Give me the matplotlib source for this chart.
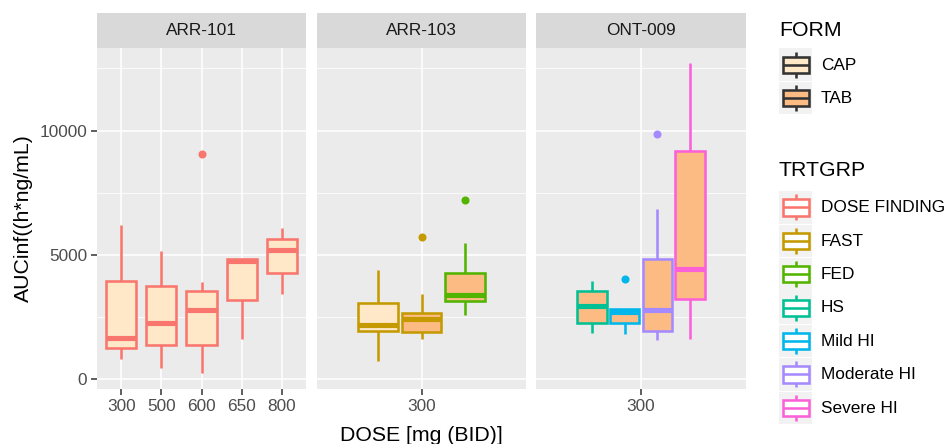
import numpy as np
import matplotlib
matplotlib.use("Agg")
import matplotlib.pyplot as plt
from matplotlib.patches import Rectangle

plt.rcParams['font.family'] = ['Liberation Sans', 'DejaVu Sans']

# --- data ---
studies = ['ARR-101', 'ARR-103', 'ONT-009']
dose_levels = {'ARR-101': ['300', '500', '600', '650', '800'],
               'ARR-103': ['300'],
               'ONT-009': ['300']}

box_study = ['ARR-101'] * 5 + ['ARR-103'] * 3 + ['ONT-009'] * 4
box_dose = ['300', '500', '600', '650', '800', '300', '300', '300', '300', '300', '300', '300']
box_form = ['CAP'] * 5 + ['CAP', 'TAB', 'TAB'] + ['TAB'] * 4
box_trt = ['DOSE FINDING'] * 5 + ['FAST', 'FAST', 'FED'] + ['HS', 'Mild HI', 'Moderate HI', 'Severe HI']
whislo = [790, 445, 226, 1617, 3437, 740, 1617, 2559, 1860, 1819, 1577, 1617]
q1 = [1237, 1375, 1375, 3166, 4270, 1953, 1884, 3125, 2248, 2248, 1953, 3206]
med = [1657, 2264, 2790, 4755, 5187, 2183, 2426, 3368, 2923, 2680, 2790, 4419]
q3 = [3946, 3732, 3530, 4836, 5632, 3073, 2652, 4286, 3530, 2830, 4823, 9190]
whishi = [6199, 5160, 3906, 4836, 6089, 4407, 3408, 5458, 3934, 2830, 6845, 12707]
outliers = [[], [], [9069], [], [], [], [5725], [7197], [], [4043], [9877], []]

form_levels = ['CAP', 'TAB']
form_fill = {'CAP': '#FEE8C8', 'TAB': '#FDBB84'}
trt_levels = ['DOSE FINDING', 'FAST', 'FED', 'HS', 'Mild HI', 'Moderate HI', 'Severe HI']
trt_col = {'DOSE FINDING': '#F8766D', 'FAST': '#C49A00', 'FED': '#53B400',
           'HS': '#00C094', 'Mild HI': '#00B6EB', 'Moderate HI': '#A58AFF',
           'Severe HI': '#FB61D7'}

y_ticks = [0, 5000, 10000]
y_minor = [2500, 7500, 12500]

# --- layout ---
W, H = 948, 444
fig = plt.figure(figsize=(W / 100, H / 100), dpi=100)

panel_x = [(97, 306), (317, 526), (536, 746)]
p_top, p_bot, s_top = 47.7, 389, 13.3

lo = min(whislo)
hi = max(max(whishi), max(max(o) for o in outliers if o))
pad = 0.05 * (hi - lo)
ylim = (lo - pad, hi + pad)

box_lw = 1.85
grey = '#4D4D4D'
tick_fs = 12.4
title_fs = 15.3

axes = []
for si, st in enumerate(studies):
    x0, x1 = panel_x[si]
    ax = fig.add_axes([x0 / W, (H - p_bot) / H, (x1 - x0) / W, (p_bot - p_top) / H])
    ax.set_facecolor('#EBEBEB')
    for s in ax.spines.values():
        s.set_visible(False)
    levels = dose_levels[st]
    ax.set_xlim(0.4, len(levels) + 0.6)
    ax.set_ylim(*ylim)
    for y in y_minor:
        ax.axhline(y, color='white', lw=0.55, zorder=0)
    for y in y_ticks:
        ax.axhline(y, color='white', lw=1.1, zorder=0)
    for i in range(len(levels)):
        ax.axvline(i + 1, color='white', lw=1.1, zorder=0)

    idx = [k for k in range(len(box_study)) if box_study[k] == st]
    # dodge2-style placement within each dose
    for di, d in enumerate(levels):
        grp = [k for k in idx if box_dose[k] == d]
        n = len(grp)
        total = 0.75
        slot = total / n
        bw = slot * (0.9 if n > 1 else 1.0)
        for j, k in enumerate(grp):
            pos = di + 1 - total / 2 + slot * (j + 0.5)
            c = trt_col[box_trt[k]]
            stats = [dict(med=med[k], q1=q1[k], q3=q3[k], whislo=whislo[k],
                          whishi=whishi[k], fliers=outliers[k])]
            ax.bxp(stats, positions=[pos], widths=[bw], patch_artist=True,
                   showcaps=False, manage_ticks=False,
                   boxprops=dict(facecolor=form_fill[box_form[k]], edgecolor=c, linewidth=box_lw),
                   whiskerprops=dict(color=c, linewidth=box_lw, solid_capstyle='butt'),
                   medianprops=dict(color=c, linewidth=box_lw * 2.0, solid_capstyle='butt'),
                   flierprops=dict(marker='o', markerfacecolor=c, markeredgecolor=c,
                                   markersize=4.8, linestyle='none'))

    ax.set_xticks(range(1, len(levels) + 1))
    ax.set_xticklabels(levels)
    ax.tick_params(axis='x', length=4, width=1.1, color='#333333', labelcolor=grey,
                   labelsize=tick_fs, pad=3)
    if si == 0:
        ax.set_yticks(y_ticks)
        ax.set_yticklabels([str(t) for t in y_ticks])
        ax.tick_params(axis='y', length=4, width=1.1, color='#333333', labelcolor=grey,
                       labelsize=tick_fs, pad=3)
        ax.set_ylabel('AUCinf((h*ng/mL)', fontsize=title_fs, color='black', labelpad=5)
    else:
        ax.set_yticks([])
    if si == 1:
        ax.set_xlabel('DOSE [mg (BID)]', fontsize=title_fs, color='black', labelpad=9)

    # facet strip
    sax = fig.add_axes([x0 / W, (H - p_top) / H, (x1 - x0) / W, (p_top - s_top) / H])
    sax.set_facecolor('#D9D9D9')
    sax.set_xticks([])
    sax.set_yticks([])
    for s in sax.spines.values():
        s.set_visible(False)
    sax.text(0.5, 0.5, st, ha='center', va='center', fontsize=tick_fs, color='#1A1A1A',
             transform=sax.transAxes)
    axes.append(ax)

# --- legends (pixel coordinates) ---
lax = fig.add_axes([0, 0, 1, 1])
lax.set_xlim(0, W)
lax.set_ylim(H, 0)
lax.axis('off')


def key(x, y, edge, fill):
    kw, kh = 32.5, 32.5
    lax.add_patch(Rectangle((x, y), kw, kh, facecolor='#F2F2F2', edgecolor='none'))
    cx = x + kw / 2
    lax.plot([cx, cx], [y + 0.1 * kh, y + 0.25 * kh], color=edge, lw=box_lw, solid_capstyle='butt')
    lax.plot([cx, cx], [y + 0.75 * kh, y + 0.9 * kh], color=edge, lw=box_lw, solid_capstyle='butt')
    lax.add_patch(Rectangle((x + 0.1 * kw, y + 0.25 * kh), 0.8 * kw, 0.5 * kh,
                            facecolor=fill, edgecolor=edge, lw=box_lw))
    lax.plot([x + 0.1 * kw, x + 0.9 * kw], [y + 0.5 * kh, y + 0.5 * kh], color=edge,
             lw=box_lw, solid_capstyle='butt')


kx, tx = 779.5, 821
lax.text(779, 30, 'FORM', fontsize=title_fs, va='center', ha='left')
for i, f in enumerate(form_levels):
    ky = 48.5 + i * 33.4
    key(kx, ky, '#333333', form_fill[f])
    lax.text(tx, ky + 16.5, f, fontsize=12.4, va='center', ha='left')

lax.text(779, 170, 'TRTGRP', fontsize=title_fs, va='center', ha='left')
for i, t in enumerate(trt_levels):
    ky = 191.2 + i * 33.4
    key(kx, ky, trt_col[t], 'white')
    lax.text(tx, ky + 16.5, t, fontsize=12.4, va='center', ha='left')

fig.savefig('out.png', dpi=100)
